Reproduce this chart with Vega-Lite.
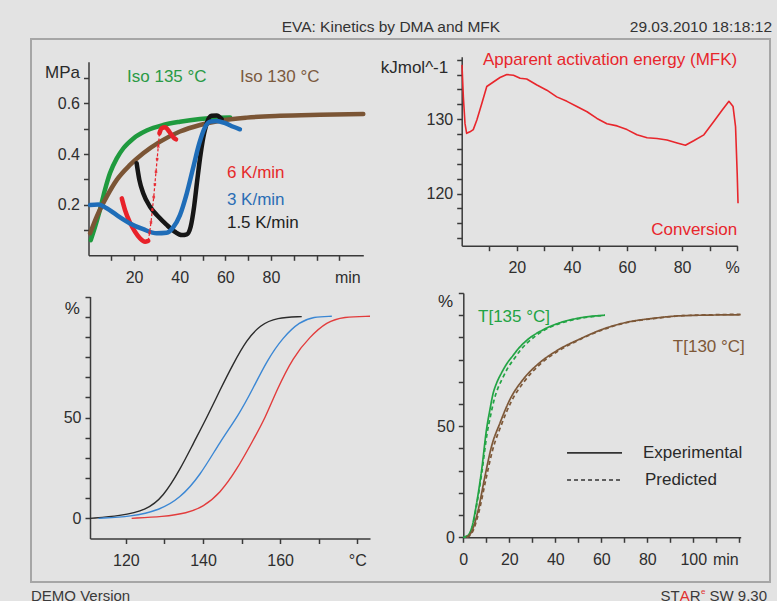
{
  "$schema": "https://vega.github.io/schema/vega-lite/v6.json",
  "width": 739,
  "height": 543,
  "autosize": "none",
  "padding": {"left": 31, "top": 39, "right": 7, "bottom": 19},
  "background": "#e3e3e3",
  "config": {
    "font": "Liberation Sans",
    "view": {"stroke": "#a6a6a6", "strokeWidth": 2},
    "axis": {
      "grid": false,
      "domainColor": "#3a3a3a",
      "domainWidth": 1.5,
      "tickColor": "#3a3a3a",
      "tickWidth": 1.5,
      "tickSize": 5,
      "labelColor": "#2e2e2e",
      "labelFont": "Liberation Sans",
      "labelFontSize": 16,
      "labelOverlap": false,
      "labelBound": false,
      "labelFlush": false,
      "titleFont": "Liberation Sans",
      "titleFontSize": 17,
      "titleFontWeight": "normal",
      "titleColor": "#2a2a2a",
      "titleAngle": 0,
      "titleAlign": "center",
      "titleBaseline": "middle"
    },
    "axisX": {"labelPadding": 9},
    "axisY": {"labelPadding": 4}
  },
  "datasets": {
    "dma": [
      {"series": "Iso 135 °C", "part": "g", "t_min": 1.0, "E_MPa": 0.060},
      {"series": "Iso 135 °C", "part": "g", "t_min": 2.9, "E_MPa": 0.113},
      {"series": "Iso 135 °C", "part": "g", "t_min": 5.0, "E_MPa": 0.179},
      {"series": "Iso 135 °C", "part": "g", "t_min": 7.2, "E_MPa": 0.258},
      {"series": "Iso 135 °C", "part": "g", "t_min": 9.4, "E_MPa": 0.324},
      {"series": "Iso 135 °C", "part": "g", "t_min": 12.4, "E_MPa": 0.383},
      {"series": "Iso 135 °C", "part": "g", "t_min": 15.3, "E_MPa": 0.423},
      {"series": "Iso 135 °C", "part": "g", "t_min": 19.7, "E_MPa": 0.462},
      {"series": "Iso 135 °C", "part": "g", "t_min": 25.5, "E_MPa": 0.493},
      {"series": "Iso 135 °C", "part": "g", "t_min": 32.8, "E_MPa": 0.515},
      {"series": "Iso 135 °C", "part": "g", "t_min": 40.1, "E_MPa": 0.528},
      {"series": "Iso 135 °C", "part": "g", "t_min": 48.9, "E_MPa": 0.539},
      {"series": "Iso 135 °C", "part": "g", "t_min": 56.2, "E_MPa": 0.544},
      {"series": "Iso 135 °C", "part": "g", "t_min": 62.1, "E_MPa": 0.545},
      {"series": "Iso 130 °C", "part": "b", "t_min": 0.7, "E_MPa": 0.087},
      {"series": "Iso 130 °C", "part": "b", "t_min": 3.6, "E_MPa": 0.153},
      {"series": "Iso 130 °C", "part": "b", "t_min": 8.0, "E_MPa": 0.232},
      {"series": "Iso 130 °C", "part": "b", "t_min": 12.4, "E_MPa": 0.298},
      {"series": "Iso 130 °C", "part": "b", "t_min": 18.2, "E_MPa": 0.357},
      {"series": "Iso 130 °C", "part": "b", "t_min": 24.0, "E_MPa": 0.403},
      {"series": "Iso 130 °C", "part": "b", "t_min": 31.4, "E_MPa": 0.449},
      {"series": "Iso 130 °C", "part": "b", "t_min": 40.1, "E_MPa": 0.489},
      {"series": "Iso 130 °C", "part": "b", "t_min": 48.9, "E_MPa": 0.515},
      {"series": "Iso 130 °C", "part": "b", "t_min": 57.7, "E_MPa": 0.532},
      {"series": "Iso 130 °C", "part": "b", "t_min": 69.4, "E_MPa": 0.544},
      {"series": "Iso 130 °C", "part": "b", "t_min": 84.0, "E_MPa": 0.551},
      {"series": "Iso 130 °C", "part": "b", "t_min": 101.5, "E_MPa": 0.555},
      {"series": "Iso 130 °C", "part": "b", "t_min": 120.5, "E_MPa": 0.558},
      {"series": "6 K/min", "part": "r1", "t_min": 14.6, "E_MPa": 0.225},
      {"series": "6 K/min", "part": "r1", "t_min": 16.0, "E_MPa": 0.179},
      {"series": "6 K/min", "part": "r1", "t_min": 18.2, "E_MPa": 0.129},
      {"series": "6 K/min", "part": "r1", "t_min": 20.4, "E_MPa": 0.093},
      {"series": "6 K/min", "part": "r1", "t_min": 22.6, "E_MPa": 0.067},
      {"series": "6 K/min", "part": "r1", "t_min": 24.8, "E_MPa": 0.054},
      {"series": "6 K/min", "part": "r1", "t_min": 26.2, "E_MPa": 0.057},
      {"series": "6 K/min", "part": "r2", "t_min": 31.1, "E_MPa": 0.482},
      {"series": "6 K/min", "part": "r2", "t_min": 32.1, "E_MPa": 0.502},
      {"series": "6 K/min", "part": "r2", "t_min": 33.6, "E_MPa": 0.506},
      {"series": "6 K/min", "part": "r2", "t_min": 35.4, "E_MPa": 0.489},
      {"series": "6 K/min", "part": "r2", "t_min": 37.2, "E_MPa": 0.466},
      {"series": "6 K/min", "part": "r2", "t_min": 38.4, "E_MPa": 0.458},
      {"series": "1.5 K/min", "part": "k", "t_min": 21.1, "E_MPa": 0.364},
      {"series": "1.5 K/min", "part": "k", "t_min": 22.3, "E_MPa": 0.298},
      {"series": "1.5 K/min", "part": "k", "t_min": 24.0, "E_MPa": 0.245},
      {"series": "1.5 K/min", "part": "k", "t_min": 27.0, "E_MPa": 0.192},
      {"series": "1.5 K/min", "part": "k", "t_min": 30.6, "E_MPa": 0.153},
      {"series": "1.5 K/min", "part": "k", "t_min": 34.3, "E_MPa": 0.120},
      {"series": "1.5 K/min", "part": "k", "t_min": 37.9, "E_MPa": 0.093},
      {"series": "1.5 K/min", "part": "k", "t_min": 40.9, "E_MPa": 0.080},
      {"series": "1.5 K/min", "part": "k", "t_min": 43.1, "E_MPa": 0.083},
      {"series": "1.5 K/min", "part": "k", "t_min": 44.8, "E_MPa": 0.113},
      {"series": "1.5 K/min", "part": "k", "t_min": 46.3, "E_MPa": 0.192},
      {"series": "1.5 K/min", "part": "k", "t_min": 47.7, "E_MPa": 0.298},
      {"series": "1.5 K/min", "part": "k", "t_min": 49.2, "E_MPa": 0.403},
      {"series": "1.5 K/min", "part": "k", "t_min": 50.7, "E_MPa": 0.482},
      {"series": "1.5 K/min", "part": "k", "t_min": 52.1, "E_MPa": 0.528},
      {"series": "1.5 K/min", "part": "k", "t_min": 54.0, "E_MPa": 0.551},
      {"series": "1.5 K/min", "part": "k", "t_min": 56.2, "E_MPa": 0.552},
      {"series": "1.5 K/min", "part": "k", "t_min": 58.4, "E_MPa": 0.538},
      {"series": "3 K/min", "part": "u", "t_min": 0.7, "E_MPa": 0.199},
      {"series": "3 K/min", "part": "u", "t_min": 4.3, "E_MPa": 0.201},
      {"series": "3 K/min", "part": "u", "t_min": 8.0, "E_MPa": 0.186},
      {"series": "3 K/min", "part": "u", "t_min": 12.4, "E_MPa": 0.159},
      {"series": "3 K/min", "part": "u", "t_min": 18.2, "E_MPa": 0.126},
      {"series": "3 K/min", "part": "u", "t_min": 24.0, "E_MPa": 0.103},
      {"series": "3 K/min", "part": "u", "t_min": 29.9, "E_MPa": 0.087},
      {"series": "3 K/min", "part": "u", "t_min": 34.3, "E_MPa": 0.089},
      {"series": "3 K/min", "part": "u", "t_min": 37.2, "E_MPa": 0.111},
      {"series": "3 K/min", "part": "u", "t_min": 40.1, "E_MPa": 0.159},
      {"series": "3 K/min", "part": "u", "t_min": 43.1, "E_MPa": 0.245},
      {"series": "3 K/min", "part": "u", "t_min": 46.0, "E_MPa": 0.350},
      {"series": "3 K/min", "part": "u", "t_min": 48.6, "E_MPa": 0.443},
      {"series": "3 K/min", "part": "u", "t_min": 51.1, "E_MPa": 0.506},
      {"series": "3 K/min", "part": "u", "t_min": 53.3, "E_MPa": 0.528},
      {"series": "3 K/min", "part": "u", "t_min": 56.2, "E_MPa": 0.531},
      {"series": "3 K/min", "part": "u", "t_min": 59.9, "E_MPa": 0.522},
      {"series": "3 K/min", "part": "u", "t_min": 63.5, "E_MPa": 0.508},
      {"series": "3 K/min", "part": "u", "t_min": 66.4, "E_MPa": 0.498}
    ],
    "dmaStep": [
      {"t_min": 26.2, "E_MPa": 0.057},
      {"t_min": 26.8, "E_MPa": 0.09},
      {"t_min": 27.4, "E_MPa": 0.13},
      {"t_min": 28.0, "E_MPa": 0.18},
      {"t_min": 28.6, "E_MPa": 0.23},
      {"t_min": 29.1, "E_MPa": 0.28},
      {"t_min": 29.6, "E_MPa": 0.33},
      {"t_min": 30.1, "E_MPa": 0.38},
      {"t_min": 30.6, "E_MPa": 0.43},
      {"t_min": 31.1, "E_MPa": 0.482}
    ],
    "ea": [
      {"conv": 0.1, "Ea": 137.3},
      {"conv": 0.6, "Ea": 133.0},
      {"conv": 1.2, "Ea": 129.4},
      {"conv": 1.8, "Ea": 128.1},
      {"conv": 3.0, "Ea": 128.3},
      {"conv": 4.2, "Ea": 128.6},
      {"conv": 5.5, "Ea": 129.9},
      {"conv": 7.3, "Ea": 132.1},
      {"conv": 9.1, "Ea": 134.4},
      {"conv": 11.5, "Ea": 135.0},
      {"conv": 13.9, "Ea": 135.6},
      {"conv": 16.4, "Ea": 136.0},
      {"conv": 18.8, "Ea": 135.9},
      {"conv": 21.2, "Ea": 135.5},
      {"conv": 23.6, "Ea": 135.4},
      {"conv": 27.3, "Ea": 134.6},
      {"conv": 30.9, "Ea": 133.9},
      {"conv": 34.5, "Ea": 133.0},
      {"conv": 38.2, "Ea": 132.4},
      {"conv": 41.8, "Ea": 131.7},
      {"conv": 45.5, "Ea": 131.0},
      {"conv": 49.1, "Ea": 130.1},
      {"conv": 52.7, "Ea": 129.4},
      {"conv": 56.4, "Ea": 129.1},
      {"conv": 60.0, "Ea": 128.6},
      {"conv": 63.6, "Ea": 127.9},
      {"conv": 67.3, "Ea": 127.5},
      {"conv": 70.9, "Ea": 127.4},
      {"conv": 74.5, "Ea": 127.2},
      {"conv": 78.2, "Ea": 126.8},
      {"conv": 81.2, "Ea": 126.5},
      {"conv": 84.2, "Ea": 127.1},
      {"conv": 87.9, "Ea": 127.9},
      {"conv": 91.5, "Ea": 129.7},
      {"conv": 94.5, "Ea": 131.2},
      {"conv": 97.0, "Ea": 132.4},
      {"conv": 98.5, "Ea": 131.7},
      {"conv": 99.4, "Ea": 129.0},
      {"conv": 100.0, "Ea": 122.7},
      {"conv": 100.3, "Ea": 118.7}
    ],
    "conv": [
      {"rate": "1.5 K/min", "T": 110.7, "alpha": 0},
      {"rate": "1.5 K/min", "T": 118.5, "alpha": 1.2},
      {"rate": "1.5 K/min", "T": 125.4, "alpha": 4.1},
      {"rate": "1.5 K/min", "T": 129.7, "alpha": 10.7},
      {"rate": "1.5 K/min", "T": 134.0, "alpha": 24.0},
      {"rate": "1.5 K/min", "T": 137.5, "alpha": 37.2},
      {"rate": "1.5 K/min", "T": 140.9, "alpha": 49.6},
      {"rate": "1.5 K/min", "T": 144.4, "alpha": 63.6},
      {"rate": "1.5 K/min", "T": 147.9, "alpha": 76.9},
      {"rate": "1.5 K/min", "T": 151.3, "alpha": 88.4},
      {"rate": "1.5 K/min", "T": 154.8, "alpha": 95.9},
      {"rate": "1.5 K/min", "T": 159.1, "alpha": 99.6},
      {"rate": "1.5 K/min", "T": 165.6, "alpha": 100},
      {"rate": "3 K/min", "T": 112.9, "alpha": 0},
      {"rate": "3 K/min", "T": 121.3, "alpha": 0.8},
      {"rate": "3 K/min", "T": 128.8, "alpha": 4.1},
      {"rate": "3 K/min", "T": 134.0, "alpha": 9.9},
      {"rate": "3 K/min", "T": 139.2, "alpha": 21.0},
      {"rate": "3 K/min", "T": 144.4, "alpha": 38.0},
      {"rate": "3 K/min", "T": 149.2, "alpha": 51.0},
      {"rate": "3 K/min", "T": 153.0, "alpha": 64.5},
      {"rate": "3 K/min", "T": 156.5, "alpha": 78.0},
      {"rate": "3 K/min", "T": 160.8, "alpha": 90.0},
      {"rate": "3 K/min", "T": 165.1, "alpha": 97.5},
      {"rate": "3 K/min", "T": 168.6, "alpha": 100},
      {"rate": "3 K/min", "T": 173.4, "alpha": 100.2},
      {"rate": "6 K/min", "T": 121.5, "alpha": 0},
      {"rate": "6 K/min", "T": 129.7, "alpha": 0.8},
      {"rate": "6 K/min", "T": 135.8, "alpha": 2.5},
      {"rate": "6 K/min", "T": 140.1, "alpha": 5.8},
      {"rate": "6 K/min", "T": 144.4, "alpha": 12.4},
      {"rate": "6 K/min", "T": 148.7, "alpha": 23.9},
      {"rate": "6 K/min", "T": 153.0, "alpha": 38.8},
      {"rate": "6 K/min", "T": 156.1, "alpha": 49.6},
      {"rate": "6 K/min", "T": 159.1, "alpha": 63.6},
      {"rate": "6 K/min", "T": 163.4, "alpha": 80.1},
      {"rate": "6 K/min", "T": 167.7, "alpha": 90.0},
      {"rate": "6 K/min", "T": 172.1, "alpha": 97.5},
      {"rate": "6 K/min", "T": 176.4, "alpha": 100},
      {"rate": "6 K/min", "T": 183.3, "alpha": 100.2}
    ],
    "iso": [
      {"temp": "135 °C", "kind": "Experimental", "t": 0, "alpha": 0},
      {"temp": "135 °C", "kind": "Experimental", "t": 2.2, "alpha": 1.0},
      {"temp": "135 °C", "kind": "Experimental", "t": 3.6, "alpha": 4.1},
      {"temp": "135 °C", "kind": "Experimental", "t": 5.8, "alpha": 15.4},
      {"temp": "135 °C", "kind": "Experimental", "t": 8.0, "alpha": 30.5},
      {"temp": "135 °C", "kind": "Experimental", "t": 10.1, "alpha": 48.6},
      {"temp": "135 °C", "kind": "Experimental", "t": 11.6, "alpha": 57.6},
      {"temp": "135 °C", "kind": "Experimental", "t": 12.9, "alpha": 64.5},
      {"temp": "135 °C", "kind": "Experimental", "t": 14.5, "alpha": 69.5},
      {"temp": "135 °C", "kind": "Experimental", "t": 16.5, "alpha": 73.8},
      {"temp": "135 °C", "kind": "Experimental", "t": 19.0, "alpha": 78.3},
      {"temp": "135 °C", "kind": "Experimental", "t": 21.7, "alpha": 82.0},
      {"temp": "135 °C", "kind": "Experimental", "t": 24.5, "alpha": 85.6},
      {"temp": "135 °C", "kind": "Experimental", "t": 27.5, "alpha": 88.6},
      {"temp": "135 °C", "kind": "Experimental", "t": 34.8, "alpha": 93.5},
      {"temp": "135 °C", "kind": "Experimental", "t": 42.0, "alpha": 96.6},
      {"temp": "135 °C", "kind": "Experimental", "t": 50.7, "alpha": 98.8},
      {"temp": "135 °C", "kind": "Experimental", "t": 61.6, "alpha": 100},
      {"temp": "135 °C", "kind": "Predicted", "t": 0, "alpha": 0},
      {"temp": "135 °C", "kind": "Predicted", "t": 2.3, "alpha": 1.0},
      {"temp": "135 °C", "kind": "Predicted", "t": 3.8, "alpha": 4.0},
      {"temp": "135 °C", "kind": "Predicted", "t": 5.9, "alpha": 15.0},
      {"temp": "135 °C", "kind": "Predicted", "t": 8.1, "alpha": 29.5},
      {"temp": "135 °C", "kind": "Predicted", "t": 10.3, "alpha": 46.5},
      {"temp": "135 °C", "kind": "Predicted", "t": 11.9, "alpha": 55.0},
      {"temp": "135 °C", "kind": "Predicted", "t": 13.3, "alpha": 61.5},
      {"temp": "135 °C", "kind": "Predicted", "t": 15.0, "alpha": 67.0},
      {"temp": "135 °C", "kind": "Predicted", "t": 17.0, "alpha": 71.5},
      {"temp": "135 °C", "kind": "Predicted", "t": 19.5, "alpha": 76.5},
      {"temp": "135 °C", "kind": "Predicted", "t": 22.2, "alpha": 80.5},
      {"temp": "135 °C", "kind": "Predicted", "t": 25.0, "alpha": 84.5},
      {"temp": "135 °C", "kind": "Predicted", "t": 27.8, "alpha": 87.5},
      {"temp": "135 °C", "kind": "Predicted", "t": 34.8, "alpha": 93.0},
      {"temp": "135 °C", "kind": "Predicted", "t": 42.0, "alpha": 96.3},
      {"temp": "135 °C", "kind": "Predicted", "t": 50.7, "alpha": 98.5},
      {"temp": "135 °C", "kind": "Predicted", "t": 61.6, "alpha": 100},
      {"temp": "130 °C", "kind": "Experimental", "t": 1.4, "alpha": 0},
      {"temp": "130 °C", "kind": "Experimental", "t": 3.6, "alpha": 2.5},
      {"temp": "130 °C", "kind": "Experimental", "t": 6.5, "alpha": 12.4},
      {"temp": "130 °C", "kind": "Experimental", "t": 9.4, "alpha": 27.4},
      {"temp": "130 °C", "kind": "Experimental", "t": 12.3, "alpha": 41.0},
      {"temp": "130 °C", "kind": "Experimental", "t": 16.0, "alpha": 51.6},
      {"temp": "130 °C", "kind": "Experimental", "t": 20.3, "alpha": 62.1},
      {"temp": "130 °C", "kind": "Experimental", "t": 26.1, "alpha": 71.2},
      {"temp": "130 °C", "kind": "Experimental", "t": 33.3, "alpha": 78.7},
      {"temp": "130 °C", "kind": "Experimental", "t": 40.6, "alpha": 84.0},
      {"temp": "130 °C", "kind": "Experimental", "t": 50.7, "alpha": 89.3},
      {"temp": "130 °C", "kind": "Experimental", "t": 60.9, "alpha": 93.8},
      {"temp": "130 °C", "kind": "Experimental", "t": 71.0, "alpha": 96.8},
      {"temp": "130 °C", "kind": "Experimental", "t": 82.6, "alpha": 98.6},
      {"temp": "130 °C", "kind": "Experimental", "t": 95.7, "alpha": 99.8},
      {"temp": "130 °C", "kind": "Experimental", "t": 120.5, "alpha": 100.2},
      {"temp": "130 °C", "kind": "Predicted", "t": 1.6, "alpha": 0},
      {"temp": "130 °C", "kind": "Predicted", "t": 3.9, "alpha": 2.2},
      {"temp": "130 °C", "kind": "Predicted", "t": 6.8, "alpha": 11.5},
      {"temp": "130 °C", "kind": "Predicted", "t": 9.8, "alpha": 26.0},
      {"temp": "130 °C", "kind": "Predicted", "t": 12.8, "alpha": 39.5},
      {"temp": "130 °C", "kind": "Predicted", "t": 16.5, "alpha": 50.5},
      {"temp": "130 °C", "kind": "Predicted", "t": 20.8, "alpha": 61.0},
      {"temp": "130 °C", "kind": "Predicted", "t": 26.6, "alpha": 70.3},
      {"temp": "130 °C", "kind": "Predicted", "t": 33.7, "alpha": 78.2},
      {"temp": "130 °C", "kind": "Predicted", "t": 41.0, "alpha": 83.7},
      {"temp": "130 °C", "kind": "Predicted", "t": 51.0, "alpha": 89.2},
      {"temp": "130 °C", "kind": "Predicted", "t": 61.2, "alpha": 93.7},
      {"temp": "130 °C", "kind": "Predicted", "t": 71.2, "alpha": 96.7},
      {"temp": "130 °C", "kind": "Predicted", "t": 82.8, "alpha": 98.5},
      {"temp": "130 °C", "kind": "Predicted", "t": 95.8, "alpha": 99.8},
      {"temp": "130 °C", "kind": "Predicted", "t": 120.5, "alpha": 100.4}
    ]
  },
  "layer": [
    {
      "data": {"name": "dma"},
      "mark": {"type": "line", "strokeWidth": 4.5, "strokeCap": "round", "strokeJoin": "round", "interpolate": "monotone"},
      "encoding": {
        "x": {
          "field": "t_min", "type": "quantitative",
          "scale": {"domain": [0, 120.5], "range": [57.5, 332.3], "nice": false, "zero": false},
          "axis": {
            "orient": "bottom", "offset": -326.7, "title": null,
            "values": [10, 20, 30, 40, 50, 60, 70, 80, 90, 100, 110],
            "labelExpr": "datum.value == 110 ? 'min' : ((datum.value % 20 == 0 && datum.value <= 80) ? datum.label : '')",
            "labelOffset": {"condition": {"test": "datum.value == 110", "value": 8}, "value": 0}
          }
        },
        "y": {
          "field": "E_MPa", "type": "quantitative",
          "scale": {"domain": [0, 0.765], "range": [216.3, 22.7], "nice": false, "zero": false},
          "axis": {
            "orient": "left", "offset": -57.5,
            "values": [0.1, 0.2, 0.3, 0.4, 0.5, 0.6, 0.7],
            "labelExpr": "(datum.value == 0.2 || datum.value == 0.4 || datum.value == 0.6) ? format(datum.value, '.1f') : ''",
            "title": "MPa", "titleX": -26.5, "titleY": 33
          }
        },
        "color": {
          "field": "series", "type": "nominal", "legend": null,
          "scale": {
            "domain": ["Iso 135 °C", "Iso 130 °C", "6 K/min", "1.5 K/min", "3 K/min"],
            "range": ["#1f9a3e", "#7b5535", "#e8222a", "#161616", "#1f6db8"]
          }
        },
        "detail": {"field": "part"}
      }
    },
    {
      "data": {"name": "dmaStep"},
      "mark": {"type": "line", "color": "#e8222a", "strokeWidth": 1.2, "strokeDash": [3, 2]},
      "encoding": {
        "x": {"field": "t_min", "type": "quantitative", "scale": {"domain": [0, 120.5], "range": [57.5, 332.3], "nice": false, "zero": false}, "axis": null},
        "y": {"field": "E_MPa", "type": "quantitative", "scale": {"domain": [0, 0.765], "range": [216.3, 22.7], "nice": false, "zero": false}, "axis": null}
      }
    },
    {
      "data": {"name": "dmaStep"},
      "mark": {"type": "point", "shape": "cross", "angle": 45, "size": 10, "filled": true, "color": "#e8222a", "opacity": 0.9},
      "encoding": {
        "x": {"field": "t_min", "type": "quantitative", "scale": {"domain": [0, 120.5], "range": [57.5, 332.3], "nice": false, "zero": false}, "axis": null},
        "y": {"field": "E_MPa", "type": "quantitative", "scale": {"domain": [0, 0.765], "range": [216.3, 22.7], "nice": false, "zero": false}, "axis": null}
      }
    },
    {
      "data": {"values": [{"label": "Iso 135 °C"}]},
      "mark": {"type": "text", "align": "left", "baseline": "middle", "fontSize": 17, "color": "#2a9a45"},
      "encoding": {
        "x": {"datum": 16.9, "type": "quantitative", "scale": {"domain": [0, 120.5], "range": [57.5, 332.3], "nice": false, "zero": false}, "axis": null},
        "y": {"datum": 0.705, "type": "quantitative", "scale": {"domain": [0, 0.765], "range": [216.3, 22.7], "nice": false, "zero": false}, "axis": null},
        "text": {"field": "label"}
      }
    },
    {
      "data": {"values": [{"label": "Iso 130 °C"}]},
      "mark": {"type": "text", "align": "left", "baseline": "middle", "fontSize": 17, "color": "#7b5a3e"},
      "encoding": {
        "x": {"datum": 66.4, "type": "quantitative", "scale": {"domain": [0, 120.5], "range": [57.5, 332.3], "nice": false, "zero": false}, "axis": null},
        "y": {"datum": 0.705, "type": "quantitative", "scale": {"domain": [0, 0.765], "range": [216.3, 22.7], "nice": false, "zero": false}, "axis": null},
        "text": {"field": "label"}
      }
    },
    {
      "data": {"values": [{"label": "6 K/min"}]},
      "mark": {"type": "text", "align": "left", "baseline": "middle", "fontSize": 17, "color": "#e62a2a"},
      "encoding": {
        "x": {"datum": 60.7, "type": "quantitative", "scale": {"domain": [0, 120.5], "range": [57.5, 332.3], "nice": false, "zero": false}, "axis": null},
        "y": {"datum": 0.325, "type": "quantitative", "scale": {"domain": [0, 0.765], "range": [216.3, 22.7], "nice": false, "zero": false}, "axis": null},
        "text": {"field": "label"}
      }
    },
    {
      "data": {"values": [{"label": "3 K/min"}]},
      "mark": {"type": "text", "align": "left", "baseline": "middle", "fontSize": 17, "color": "#2a6db5"},
      "encoding": {
        "x": {"datum": 60.7, "type": "quantitative", "scale": {"domain": [0, 120.5], "range": [57.5, 332.3], "nice": false, "zero": false}, "axis": null},
        "y": {"datum": 0.219, "type": "quantitative", "scale": {"domain": [0, 0.765], "range": [216.3, 22.7], "nice": false, "zero": false}, "axis": null},
        "text": {"field": "label"}
      }
    },
    {
      "data": {"values": [{"label": "1.5 K/min"}]},
      "mark": {"type": "text", "align": "left", "baseline": "middle", "fontSize": 17, "color": "#222222"},
      "encoding": {
        "x": {"datum": 60.7, "type": "quantitative", "scale": {"domain": [0, 120.5], "range": [57.5, 332.3], "nice": false, "zero": false}, "axis": null},
        "y": {"datum": 0.128, "type": "quantitative", "scale": {"domain": [0, 0.765], "range": [216.3, 22.7], "nice": false, "zero": false}, "axis": null},
        "text": {"field": "label"}
      }
    },
    {
      "data": {"name": "ea"},
      "mark": {"type": "line", "color": "#e8262c", "strokeWidth": 1.6, "strokeJoin": "round"},
      "encoding": {
        "x": {
          "field": "conv", "type": "quantitative",
          "scale": {"domain": [0, 100], "range": [430.7, 706.2], "nice": false, "zero": false},
          "axis": {
            "orient": "bottom", "offset": -336.3, "title": null,
            "values": [10, 20, 30, 40, 50, 60, 70, 80, 90, 100],
            "labelExpr": "datum.value == 100 ? '%' : (datum.value % 20 == 0 ? datum.label : '')",
            "labelOffset": {"condition": {"test": "datum.value == 100", "value": -5}, "value": 0}
          }
        },
        "y": {
          "field": "Ea", "type": "quantitative",
          "scale": {"domain": [113, 138.4], "range": [206.7, 17.7], "nice": false, "zero": false},
          "axis": {
            "orient": "left", "offset": -430.7,
            "values": [114, 116, 118, 120, 122, 124, 126, 128, 130, 132, 134, 136, 138],
            "labelExpr": "datum.value % 10 == 0 ? datum.label : ''",
            "title": "kJmol^-1", "titleX": -47.7, "titleY": 28
          }
        }
      }
    },
    {
      "data": {"values": [{"label": "Apparent activation energy (MFK)"}]},
      "mark": {"type": "text", "align": "right", "baseline": "middle", "fontSize": 17, "color": "#e8262c"},
      "encoding": {
        "x": {"datum": 100, "type": "quantitative", "scale": {"domain": [0, 100], "range": [430.7, 706.2], "nice": false, "zero": false}, "axis": null},
        "y": {"datum": 137.9, "type": "quantitative", "scale": {"domain": [113, 138.4], "range": [206.7, 17.7], "nice": false, "zero": false}, "axis": null},
        "text": {"field": "label"}
      }
    },
    {
      "data": {"values": [{"label": "Conversion"}]},
      "mark": {"type": "text", "align": "right", "baseline": "middle", "fontSize": 17, "color": "#e8262c"},
      "encoding": {
        "x": {"datum": 100, "type": "quantitative", "scale": {"domain": [0, 100], "range": [430.7, 706.2], "nice": false, "zero": false}, "axis": null},
        "y": {"datum": 115.1, "type": "quantitative", "scale": {"domain": [113, 138.4], "range": [206.7, 17.7], "nice": false, "zero": false}, "axis": null},
        "text": {"field": "label"}
      }
    },
    {
      "data": {"name": "conv"},
      "mark": {"type": "line", "strokeWidth": 1.4, "interpolate": "basis"},
      "encoding": {
        "x": {
          "field": "T", "type": "quantitative",
          "scale": {"domain": [110.7, 183.3], "range": [59, 339], "nice": false, "zero": false},
          "axis": {
            "orient": "bottom", "offset": -43.5, "title": null,
            "values": [120, 130, 140, 150, 160, 170, 180],
            "labelExpr": "datum.value == 180 ? '°C' : (datum.value % 20 == 0 ? datum.label : '')"
          }
        },
        "y": {
          "field": "alpha", "type": "quantitative",
          "scale": {"domain": [-10, 110], "range": [499.5, 257.5], "nice": false, "zero": false},
          "axis": {
            "orient": "left", "offset": -59,
            "values": [0, 10, 20, 30, 40, 50, 60, 70, 80, 90, 100, 110],
            "labelExpr": "datum.value % 50 == 0 && datum.value < 100 ? datum.label : ''",
            "title": "%", "titleX": -18.3, "titleY": 269
          }
        },
        "color": {
          "field": "rate", "type": "nominal", "legend": null,
          "scale": {"domain": ["1.5 K/min", "3 K/min", "6 K/min"], "range": ["#2b2b2b", "#3b87d4", "#e23c3c"]}
        }
      }
    },
    {
      "data": {"name": "iso"},
      "mark": {"type": "line", "strokeWidth": 1.7, "interpolate": "monotone"},
      "encoding": {
        "x": {
          "field": "t", "type": "quantitative",
          "scale": {"domain": [0, 120.6], "range": [432.3, 709.7], "nice": false, "zero": false},
          "axis": {
            "orient": "bottom", "offset": -44.7, "title": null,
            "values": [0, 10, 20, 30, 40, 50, 60, 70, 80, 90, 100, 110, 120],
            "labelExpr": "datum.value == 110 ? 'min' : ((datum.value % 20 == 0 && datum.value <= 100) ? datum.label : '')",
            "labelOffset": {"condition": {"test": "datum.value == 110", "value": 9}, "value": 0}
          }
        },
        "y": {
          "field": "alpha", "type": "quantitative",
          "scale": {"domain": [0, 110], "range": [498.3, 254], "nice": false, "zero": false},
          "axis": {
            "orient": "left", "offset": -432.3,
            "values": [0, 10, 20, 30, 40, 50, 60, 70, 80, 90, 100, 110],
            "labelExpr": "datum.value % 50 == 0 && datum.value < 100 ? datum.label : ''",
            "title": "%", "titleX": -18.3, "titleY": 262.7
          }
        },
        "color": {
          "field": "temp", "type": "nominal", "legend": null,
          "scale": {"domain": ["135 °C", "130 °C"], "range": ["#22a444", "#7d5838"]}
        },
        "strokeDash": {
          "field": "kind", "type": "nominal", "legend": null,
          "scale": {"domain": ["Experimental", "Predicted"], "range": [[1, 0], [4, 3]]}
        }
      }
    },
    {
      "data": {"values": [{"label": "T[135 °C]"}]},
      "mark": {"type": "text", "align": "left", "baseline": "middle", "fontSize": 17, "color": "#22a444"},
      "encoding": {
        "x": {"datum": 6.4, "type": "quantitative", "scale": {"domain": [0, 120.6], "range": [432.3, 709.7], "nice": false, "zero": false}, "axis": null},
        "y": {"datum": 99.2, "type": "quantitative", "scale": {"domain": [0, 110], "range": [498.3, 254], "nice": false, "zero": false}, "axis": null},
        "text": {"field": "label"}
      }
    },
    {
      "data": {"values": [{"label": "T[130 °C]"}]},
      "mark": {"type": "text", "align": "left", "baseline": "middle", "fontSize": 17, "color": "#7d5838"},
      "encoding": {
        "x": {"datum": 91.1, "type": "quantitative", "scale": {"domain": [0, 120.6], "range": [432.3, 709.7], "nice": false, "zero": false}, "axis": null},
        "y": {"datum": 85.8, "type": "quantitative", "scale": {"domain": [0, 110], "range": [498.3, 254], "nice": false, "zero": false}, "axis": null},
        "text": {"field": "label"}
      }
    },
    {
      "data": {"values": [{"kind": "Experimental"}]},
      "mark": {"type": "rule", "color": "#333333", "strokeWidth": 1.6},
      "encoding": {
        "x": {"datum": 45.1, "type": "quantitative", "scale": {"domain": [0, 120.6], "range": [432.3, 709.7], "nice": false, "zero": false}, "axis": null},
        "x2": {"datum": 69.0},
        "y": {"datum": 38.0, "type": "quantitative", "scale": {"domain": [0, 110], "range": [498.3, 254], "nice": false, "zero": false}, "axis": null}
      }
    },
    {
      "data": {"values": [{"kind": "Predicted"}]},
      "mark": {"type": "rule", "color": "#333333", "strokeWidth": 1.6, "strokeDash": [4, 3]},
      "encoding": {
        "x": {"datum": 45.1, "type": "quantitative", "scale": {"domain": [0, 120.6], "range": [432.3, 709.7], "nice": false, "zero": false}, "axis": null},
        "x2": {"datum": 69.0},
        "y": {"datum": 25.8, "type": "quantitative", "scale": {"domain": [0, 110], "range": [498.3, 254], "nice": false, "zero": false}, "axis": null}
      }
    },
    {
      "data": {"values": [{"label": "Experimental"}]},
      "mark": {"type": "text", "align": "left", "baseline": "middle", "fontSize": 17, "color": "#2a2a2a"},
      "encoding": {
        "x": {"datum": 78.1, "type": "quantitative", "scale": {"domain": [0, 120.6], "range": [432.3, 709.7], "nice": false, "zero": false}, "axis": null},
        "y": {"datum": 38.0, "type": "quantitative", "scale": {"domain": [0, 110], "range": [498.3, 254], "nice": false, "zero": false}, "axis": null},
        "text": {"field": "label"}
      }
    },
    {
      "data": {"values": [{"label": "Predicted"}]},
      "mark": {"type": "text", "align": "left", "baseline": "middle", "fontSize": 17, "color": "#2a2a2a"},
      "encoding": {
        "x": {"datum": 79.0, "type": "quantitative", "scale": {"domain": [0, 120.6], "range": [432.3, 709.7], "nice": false, "zero": false}, "axis": null},
        "y": {"datum": 25.8, "type": "quantitative", "scale": {"domain": [0, 110], "range": [498.3, 254], "nice": false, "zero": false}, "axis": null},
        "text": {"field": "label"}
      }
    },
    {
      "data": {"values": [{"label": "EVA: Kinetics by DMA and MFK"}]},
      "mark": {"type": "text", "align": "center", "baseline": "alphabetic", "dy": -7.3, "fontSize": 15.5, "color": "#333333"},
      "encoding": {
        "x": {"datum": 0.487, "type": "quantitative", "scale": {"domain": [0, 1], "nice": false, "zero": false}, "axis": null},
        "y": {"datum": 1, "type": "quantitative", "scale": {"domain": [0, 1], "nice": false, "zero": false}, "axis": null},
        "text": {"field": "label"}
      }
    },
    {
      "data": {"values": [{"label": "29.03.2010 18:18:12"}]},
      "mark": {"type": "text", "align": "right", "baseline": "alphabetic", "dx": 2, "dy": -7.3, "fontSize": 15.5, "color": "#333333"},
      "encoding": {
        "x": {"datum": 1, "type": "quantitative", "scale": {"domain": [0, 1], "nice": false, "zero": false}, "axis": null},
        "y": {"datum": 1, "type": "quantitative", "scale": {"domain": [0, 1], "nice": false, "zero": false}, "axis": null},
        "text": {"field": "label"}
      }
    },
    {
      "data": {"values": [{"label": "DEMO Version"}]},
      "mark": {"type": "text", "align": "left", "baseline": "alphabetic", "dy": 19, "fontSize": 15, "color": "#3a3a3a"},
      "encoding": {
        "x": {"datum": 0, "type": "quantitative", "scale": {"domain": [0, 1], "nice": false, "zero": false}, "axis": null},
        "y": {"datum": 0, "type": "quantitative", "scale": {"domain": [0, 1], "nice": false, "zero": false}, "axis": null},
        "text": {"field": "label"}
      }
    },
    {
      "data": {"values": [{"label": " SW 9.30"}]},
      "mark": {"type": "text", "align": "right", "baseline": "alphabetic", "dx": -3, "dy": 19, "fontSize": 15, "color": "#3a3a3a"},
      "encoding": {
        "x": {"datum": 1, "type": "quantitative", "scale": {"domain": [0, 1], "nice": false, "zero": false}, "axis": null},
        "y": {"datum": 0, "type": "quantitative", "scale": {"domain": [0, 1], "nice": false, "zero": false}, "axis": null},
        "text": {"field": "label"}
      }
    },
    {
      "data": {"values": [{"label": "e"}]},
      "mark": {"type": "text", "align": "right", "baseline": "alphabetic", "dx": -64.5, "dy": 12, "fontSize": 8, "color": "#e03030"},
      "encoding": {
        "x": {"datum": 1, "type": "quantitative", "scale": {"domain": [0, 1], "nice": false, "zero": false}, "axis": null},
        "y": {"datum": 0, "type": "quantitative", "scale": {"domain": [0, 1], "nice": false, "zero": false}, "axis": null},
        "text": {"field": "label"}
      }
    },
    {
      "data": {"values": [{"label": "R"}]},
      "mark": {"type": "text", "align": "right", "baseline": "alphabetic", "dx": -69.5, "dy": 19, "fontSize": 15, "color": "#3a3a3a"},
      "encoding": {
        "x": {"datum": 1, "type": "quantitative", "scale": {"domain": [0, 1], "nice": false, "zero": false}, "axis": null},
        "y": {"datum": 0, "type": "quantitative", "scale": {"domain": [0, 1], "nice": false, "zero": false}, "axis": null},
        "text": {"field": "label"}
      }
    },
    {
      "data": {"values": [{"label": "A"}]},
      "mark": {"type": "text", "align": "right", "baseline": "alphabetic", "dx": -80.3, "dy": 19, "fontSize": 15, "color": "#e03030"},
      "encoding": {
        "x": {"datum": 1, "type": "quantitative", "scale": {"domain": [0, 1], "nice": false, "zero": false}, "axis": null},
        "y": {"datum": 0, "type": "quantitative", "scale": {"domain": [0, 1], "nice": false, "zero": false}, "axis": null},
        "text": {"field": "label"}
      }
    },
    {
      "data": {"values": [{"label": "ST"}]},
      "mark": {"type": "text", "align": "right", "baseline": "alphabetic", "dx": -90.3, "dy": 19, "fontSize": 15, "color": "#3a3a3a"},
      "encoding": {
        "x": {"datum": 1, "type": "quantitative", "scale": {"domain": [0, 1], "nice": false, "zero": false}, "axis": null},
        "y": {"datum": 0, "type": "quantitative", "scale": {"domain": [0, 1], "nice": false, "zero": false}, "axis": null},
        "text": {"field": "label"}
      }
    }
  ],
  "resolve": {
    "scale": {"x": "independent", "y": "independent", "color": "independent", "strokeDash": "independent"},
    "axis": {"x": "independent", "y": "independent"}
  }
}
